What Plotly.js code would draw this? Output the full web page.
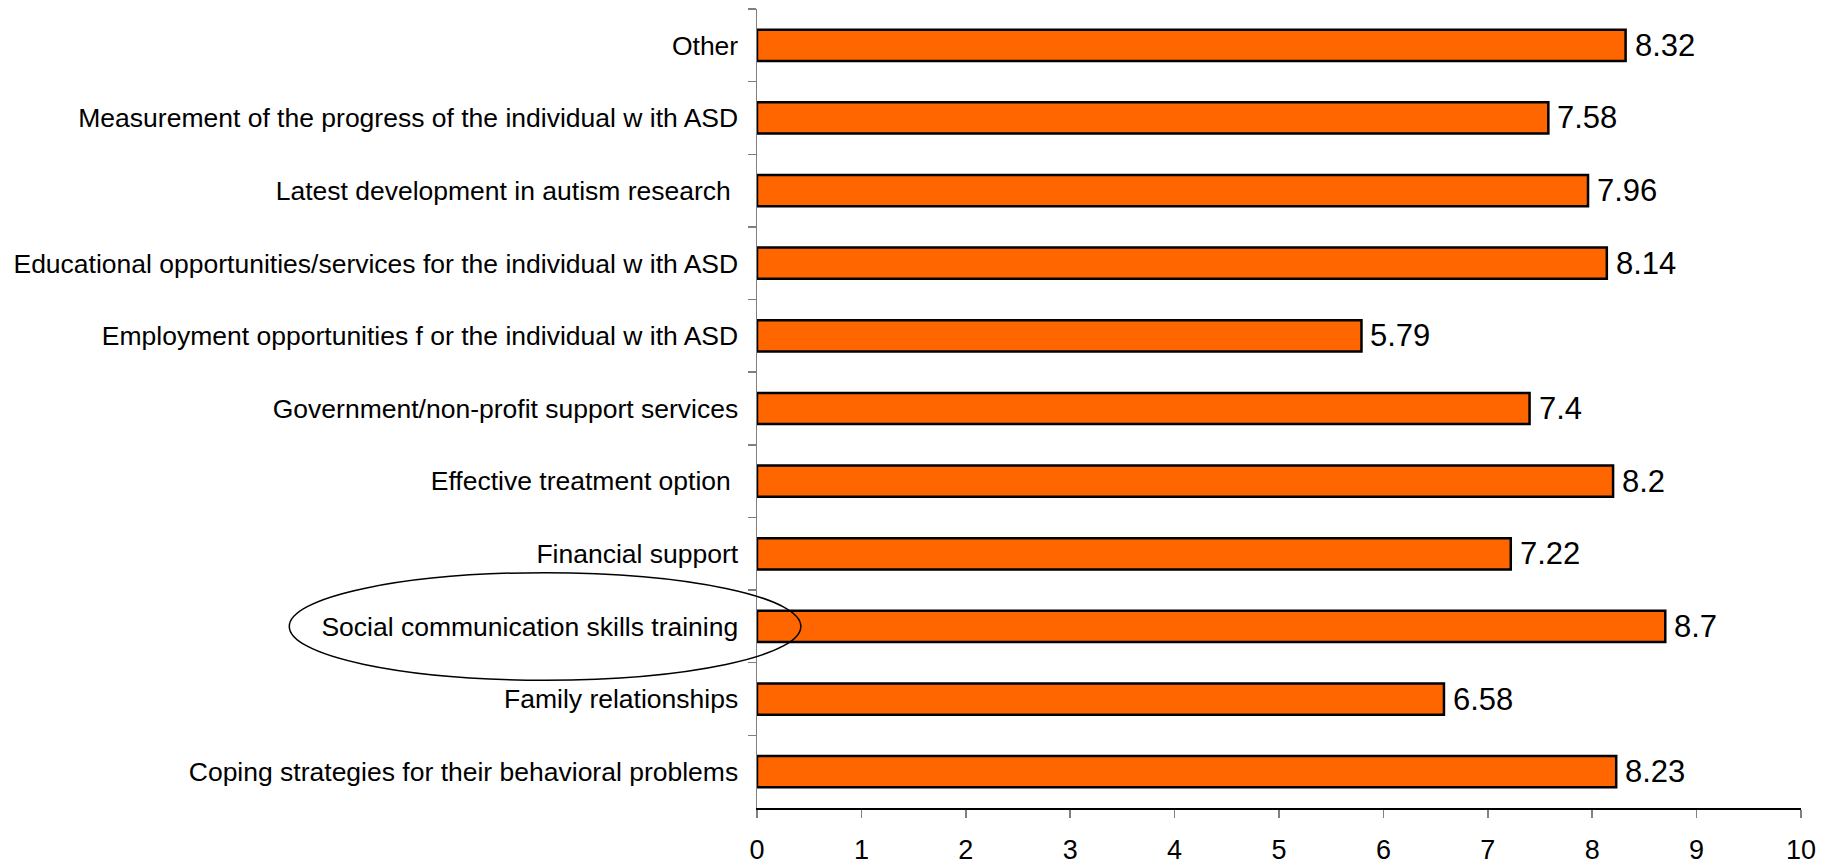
<!DOCTYPE html>
<html>
<head>
<meta charset="utf-8">
<script src="https://cdn.plot.ly/plotly-3.0.1.min.js"></script>
<style>
  html, body { margin: 0; padding: 0; background: #ffffff; }
  #chart { width: 1836px; height: 864px; }
</style>
</head>
<body>
<div id="chart"></div>
<script>
// Topics, listed from top to bottom as drawn
const topics = [
  "Other",
  "Measurement of the progress of the individual w ith ASD",
  "Latest development in autism research\u00a0",
  "Educational opportunities/services for the individual w ith ASD",
  "Employment opportunities f or the individual w ith ASD",
  "Government/non-profit support services",
  "Effective treatment option\u00a0",
  "Financial support",
  "Social communication skills training",
  "Family relationships",
  "Coping strategies for their behavioral problems"
];

// Mean importance rating for each topic
const ratings = [8.32, 7.58, 7.96, 8.14, 5.79, 7.4, 8.2, 7.22, 8.7, 6.58, 8.23];

// Value axis ticks
const xTicks = [0, 1, 2, 3, 4, 5, 6, 7, 8, 9, 10];

// Topic singled out with an ellipse
const highlighted = "Social communication skills training";

const font = "Liberation Sans, Arial, sans-serif";

const trace = {
  type: "bar",
  orientation: "h",
  x: ratings,
  y: topics,
  marker: { color: "#FF6600", line: { color: "#000000", width: 2.5 } },
  hoverinfo: "x+y",
  cliponaxis: false
};

// Value labels placed just right of each bar end
const valueLabels = ratings.map((v, i) => ({
  x: v, y: topics[i], xref: "x", yref: "y",
  text: String(v), showarrow: false,
  xanchor: "left", yanchor: "middle", xshift: 7,
  font: { family: font, size: 31, color: "#000000" }
}));

// Ellipse around the highlighted topic label, in paper units
const n = topics.length;
const hi = topics.indexOf(highlighted);
const hiCenter = 1 - (hi + 0.5) / n;
const hiHalf = 0.74 / n;

const layout = {
  width: 1836, height: 864,
  margin: { l: 757, r: 35, t: 9, b: 56 },
  paper_bgcolor: "#ffffff", plot_bgcolor: "#ffffff",
  showlegend: false,
  bargap: 0.57,
  font: { family: font, color: "#000000" },
  xaxis: {
    range: [0, 10], tickvals: xTicks, ticktext: xTicks.map(String),
    showgrid: false, zeroline: false,
    showline: true, linecolor: "#000000", linewidth: 1.5,
    ticks: "outside", ticklen: 8, tickcolor: "#808080", tickwidth: 1.5,
    ticklabelstandoff: 9,
    tickfont: { family: font, size: 27, color: "#000000" },
    fixedrange: true
  },
  yaxis: {
    type: "category", autorange: "reversed",
    showgrid: false, zeroline: false,
    showline: true, linecolor: "#808080", linewidth: 1.5,
    ticks: "outside", ticklen: 8, tickcolor: "#808080", tickwidth: 1.5,
    tickson: "boundaries",
    ticklabelstandoff: 12,
    tickfont: { family: font, size: 26.5, color: "#000000" },
    fixedrange: true
  },
  annotations: valueLabels,
  shapes: [{
    type: "circle", xref: "paper", yref: "paper",
    x0: -0.448, x1: 0.042,
    y0: hiCenter - hiHalf, y1: hiCenter + hiHalf,
    line: { color: "#000000", width: 1.5 },
    fillcolor: "rgba(0,0,0,0)",
    layer: "above"
  }]
};

Plotly.newPlot("chart", [trace], layout, { displayModeBar: false, staticPlot: true });
</script>
</body>
</html>
